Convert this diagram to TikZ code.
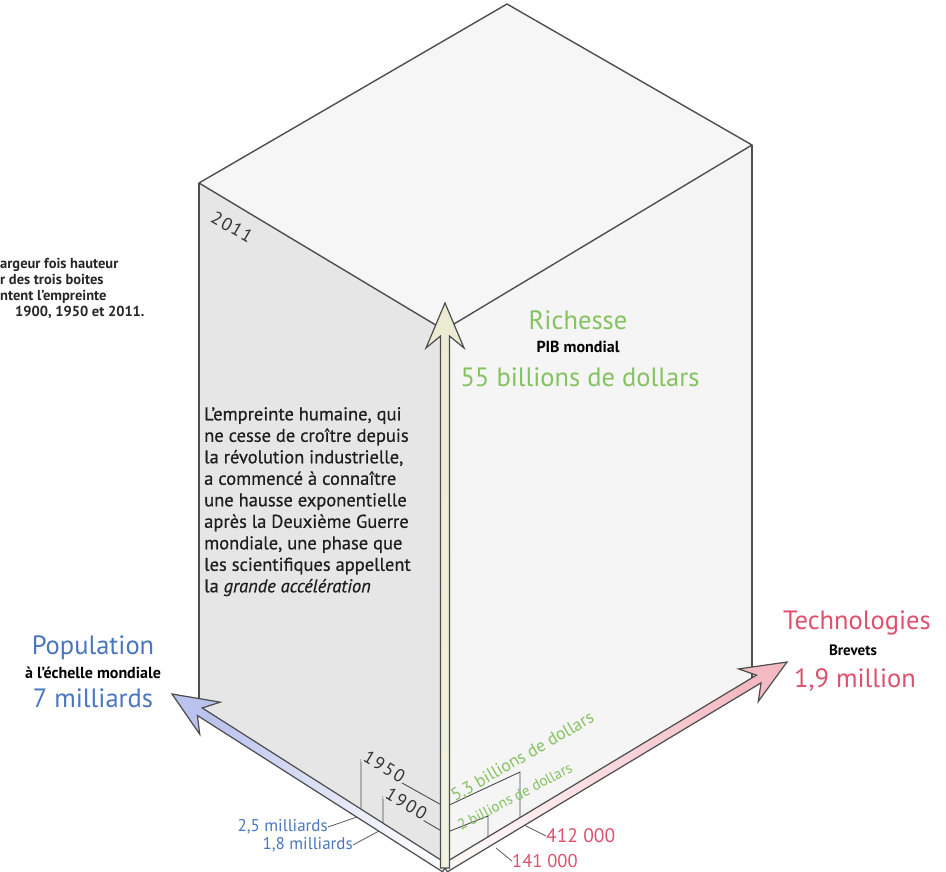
\documentclass[tikz,border=0pt]{standalone}
\usepackage{fontspec}
\setmainfont{PT Sans}
\usepackage{xcolor}
\usetikzlibrary{calc,positioning}

\definecolor{richgreen}{RGB}{133,194,96}
\definecolor{popblue}{RGB}{74,118,190}
\definecolor{techpink}{RGB}{222,80,110}
\definecolor{faceleft}{RGB}{230,230,230}
\definecolor{faceright}{RGB}{245,245,245}
\definecolor{facetop}{RGB}{246,246,246}
\definecolor{edgegray}{RGB}{78,78,78}
\definecolor{popfill}{RGB}{186,194,238}
\definecolor{techfill}{RGB}{244,186,196}
\definecolor{richfill}{RGB}{236,236,212}

\tikzset{
  facedge/.style={draw=edgegray,line width=1.4pt,line join=round},
  axistitle/.style={font=\fontsize{26.5}{28}\selectfont,inner sep=0pt},
  axisvalue/.style={font=\fontsize{26.5}{28}\selectfont,inner sep=0pt},
  axissub/.style={font=\fontsize{16}{18}\selectfont\bfseries,inner sep=0pt},
  yearlbl/.style={font=\fontsize{18}{20}\selectfont\addfontfeatures{LetterSpace=10},text=black!80,inner sep=1pt},
  smallval/.style={font=\fontsize{17}{19}\selectfont,inner sep=0pt},
  leader/.style={draw=black!65,line width=0.8pt},
  boxline/.style={draw=black!70,line width=0.9pt},
  arrowline/.style={draw=black!70,line width=1.2pt,line join=miter}
}

% fat outlined arrow: name, base, tip, fill options
\newcommand{\fatarrow}[4]{%
  \coordinate (#1b) at (#2);
  \coordinate (#1t) at (#3);
  \coordinate (#1h) at ($(#1t)!45pt!(#1b)$);
  \coordinate (#1i) at ($(#1t)!33pt!(#1b)$);
  \draw[arrowline,#4] (#1t) -- ($(#1h)!19pt!90:(#1t)$) -- ($(#1i)!4.5pt!90:(#1t)$)
    -- ($(#1b)!4.5pt!90:(#1t)$) -- ($(#1b)!4.5pt!-90:(#1t)$)
    -- ($(#1i)!4.5pt!-90:(#1t)$) -- ($(#1h)!19pt!-90:(#1t)$) -- cycle;
}

\begin{document}
\begin{tikzpicture}[x=1pt,y=-1pt]
  \useasboundingbox (0,0) rectangle (946,872);
  % 2011 box
  \coordinate (topL) at (199,183);
  \coordinate (topB) at (507,4);
  \coordinate (topR) at (752,145);
  \coordinate (topF) at (444,330);
  \coordinate (botF) at (445,868);
  \coordinate (botL) at (199,711);
  \coordinate (botR) at (752,683);
  \fill[faceleft] (topL) -- (topF) -- (botF) -- (botL) -- cycle;
  \fill[faceright] (topF) -- (topR) -- (botR) -- (botF) -- cycle;
  \filldraw[fill=facetop,facedge] (topL) -- (topB) -- (topR) -- (topF) -- cycle;
  \draw[facedge] (topL) -- (botL);
  \draw[facedge] (topR) -- (botR);
  \node[yearlbl,rotate=-30] (y2011) at (232,227) {2011};

  % 1950 box
  \coordinate (c50l) at (361,760);
  \coordinate (c50f) at (445,807);
  \coordinate (c50r) at (520,772);
  \coordinate (c50lb) at (361,812);
  \coordinate (c50rb) at (520,818);
  \draw[boxline] (c50lb) -- (c50l) -- (c50f) -- (c50r) -- (c50rb);
  \node[yearlbl,rotate=-31,anchor=base west,fill=faceleft] (y1950) at (c50l) {1950};
  % 1900 box
  \coordinate (c00l) at (383,797);
  \coordinate (c00f) at (445,833);
  \coordinate (c00r) at (488,816);
  \coordinate (c00lb) at (383,828);
  \coordinate (c00rb) at (488,840);
  \draw[boxline] (c00lb) -- (c00l) -- (c00f) -- (c00r) -- (c00rb);
  \node[yearlbl,rotate=-31,anchor=base west,fill=faceleft] (y1900) at (c00l) {1900};
  \node[font=\fontsize{17.5}{19}\selectfont,text=richgreen,rotate=30,anchor=base west,inner sep=0pt]
    (gdp50) at (455,802) {5,3 billions de dollars};
  \node[font=\fontsize{15}{17}\selectfont,text=richgreen,rotate=28,anchor=base west,inner sep=0pt]
    (gdp00) at (461,831) {2 billions de dollars};

  % axes
  \fatarrow{pop}{botF}{172,694}{top color=popfill,bottom color=white!92!popfill,shading angle=57.5}
  \fatarrow{tech}{botF}{787,662}{top color=techfill,bottom color=white!85!techfill,shading angle=-59}
  \fatarrow{rich}{botF}{445,303}{top color=richfill,bottom color=richfill!70!white}

  % leaders to small values
  \node[smallval,text=popblue,anchor=east] (pop50) at (328,827) {2,5 milliards};
  \node[smallval,text=popblue,anchor=east] (pop00) at (353,845) {1,8 milliards};
  \node[smallval,font=\fontsize{19.5}{21}\selectfont,text=techpink,anchor=west] (tech50) at (546,836) {412 000};
  \node[smallval,font=\fontsize{18.5}{20}\selectfont,text=techpink,anchor=west] (tech00) at (512,861) {141 000};
  \coordinate (l50) at (357,817);
  \coordinate (l00) at (379,831);
  \coordinate (r50) at (524,825);
  \coordinate (r00) at (496,848);
  \draw[leader] (pop50.east) -- (l50);
  \draw[leader] (pop00.east) -- (l00);
  \draw[leader] (r50) -- (tech50.west);
  \draw[leader] (r00) -- (tech00.west);

  % axis labels
  \node[axistitle,text=richgreen] (richt) at (578,320) {Richesse};
  \node[axissub] (richs) at (578,347) {PIB mondial};
  \node[axisvalue,text=richgreen] (richv) at (580,377) {55 billions de dollars};
  \node[axistitle,text=popblue] (popt) at (93,648) {Population};
  \node[axissub] (pops) at (93,673) {à l’échelle mondiale};
  \node[axisvalue,text=popblue] (popv) at (93,698) {7 milliards};
  \node[axistitle,text=techpink] (techt) at (857,623) {Technologies};
  \node[axissub,font=\fontsize{15}{17}\selectfont\bfseries] (techs) at (853,650) {Brevets};
  \node[axisvalue,text=techpink] (techv) at (855,680) {1,9 million};

  % texts
  \node[anchor=north west,align=left,inner sep=0pt,font=\fontsize{18.5}{21.5}\selectfont\addfontfeatures{FakeBold=0.6},text=black!88]
    (story) at (204,407) {L’empreinte humaine, qui\\ne cesse de croître depuis\\la révolution industrielle,\\a commencé à connaître\\une hausse exponentielle\\après la Deuxième Guerre\\mondiale, une phase que\\les scientifiques appellent\\la \emph{grande accélération}};
  \node[anchor=north west,align=left,inner sep=0pt,font=\fontsize{14.5}{16}\selectfont\bfseries,text=black!85]
    (note) at (0,258) {argeur fois hauteur\\r des trois boites\\ntent l’empreinte\\\hspace*{15pt}1900, 1950 et 2011.};
\end{tikzpicture}
\end{document}
